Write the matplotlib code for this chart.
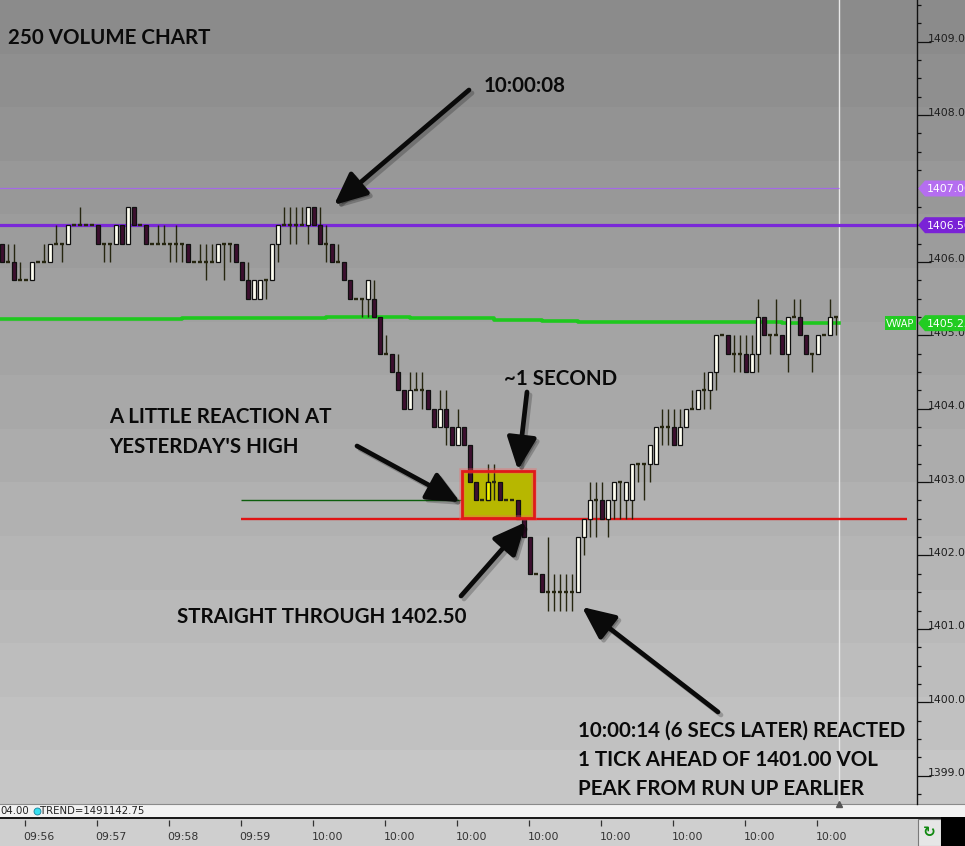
import matplotlib
matplotlib.use('Agg')
import matplotlib.pyplot as plt
import numpy as np
from matplotlib.patches import Polygon, Rectangle

# ---------------- data ----------------
opens = [1406.25, 1406.0, 1406.0, 1405.75, 1405.75, 1405.75, 1406.0, 1406.0, 1406.0, 1406.25,
         1406.25, 1406.25, 1406.5, 1406.5, 1406.5, 1406.5, 1406.5, 1406.25, 1406.25, 1406.25,
         1406.5, 1406.25, 1406.75, 1406.5, 1406.5, 1406.25, 1406.25, 1406.25, 1406.25, 1406.25,
         1406.25, 1406.25, 1406.0, 1406.0, 1406.0, 1406.0, 1406.0, 1406.25, 1406.25, 1406.25,
         1406.0, 1405.75, 1405.5, 1405.5, 1405.75, 1405.75, 1406.25, 1406.5, 1406.5, 1406.5,
         1406.5, 1406.5, 1406.75, 1406.5, 1406.25, 1406.25, 1406.0, 1406.0, 1405.75, 1405.5,
         1405.5, 1405.5, 1405.5, 1405.25, 1404.75, 1404.75, 1404.5, 1404.25, 1404.0, 1404.25,
         1404.25, 1404.25, 1404.0, 1403.75, 1404.0, 1403.75, 1403.5, 1403.75, 1403.5, 1403.0,
         1402.75, 1402.75, 1403.0, 1403.0, 1402.75, 1402.75, 1402.75, 1402.5, 1402.25, 1401.75,
         1401.75, 1401.5, 1401.5, 1401.5, 1401.5, 1401.5, 1401.5, 1402.25, 1402.5, 1402.75,
         1402.75, 1402.5, 1402.75, 1403.0, 1402.75, 1402.75, 1403.25, 1403.25, 1403.25, 1403.25,
         1403.75, 1403.75, 1403.75, 1403.5, 1403.75, 1404.0, 1404.0, 1404.25, 1404.25, 1404.5,
         1405.0, 1405.0, 1404.75, 1404.75, 1404.75, 1404.5, 1404.75, 1405.25, 1405.0, 1405.0,
         1405.0, 1404.75, 1405.25, 1405.25, 1405.0, 1404.75, 1404.75, 1405.0, 1405.0, 1405.25]
highs = [1406.25, 1406.25, 1406.25, 1406.0, 1405.75, 1406.0, 1406.0, 1406.25, 1406.25, 1406.5,
         1406.25, 1406.5, 1406.5, 1406.75, 1406.5, 1406.5, 1406.5, 1406.25, 1406.25, 1406.5,
         1406.5, 1406.75, 1406.75, 1406.5, 1406.5, 1406.25, 1406.5, 1406.5, 1406.25, 1406.5,
         1406.25, 1406.25, 1406.0, 1406.25, 1406.25, 1406.25, 1406.25, 1406.25, 1406.25, 1406.25,
         1406.0, 1406.0, 1405.75, 1405.75, 1405.75, 1406.25, 1406.5, 1406.75, 1406.75, 1406.75,
         1406.75, 1406.75, 1406.75, 1406.75, 1406.5, 1406.25, 1406.25, 1406.0, 1405.75, 1405.5,
         1405.5, 1405.75, 1405.75, 1405.25, 1405.0, 1404.75, 1404.75, 1404.25, 1404.5, 1404.5,
         1404.5, 1404.25, 1404.0, 1404.25, 1404.25, 1403.75, 1404.0, 1403.75, 1403.5, 1403.0,
         1402.75, 1403.25, 1403.25, 1403.0, 1402.75, 1402.75, 1402.75, 1402.5, 1402.25, 1401.75,
         1401.75, 1402.25, 1401.75, 1401.75, 1401.75, 1401.75, 1402.25, 1402.5, 1403.0, 1403.0,
         1403.0, 1402.75, 1403.0, 1403.0, 1403.0, 1403.25, 1403.25, 1403.25, 1403.5, 1403.75,
         1404.0, 1404.0, 1404.0, 1404.0, 1404.0, 1404.25, 1404.25, 1404.5, 1404.5, 1405.0,
         1405.0, 1405.0, 1405.0, 1405.0, 1405.0, 1405.0, 1405.5, 1405.25, 1405.0, 1405.5,
         1405.0, 1405.25, 1405.5, 1405.5, 1405.0, 1404.75, 1405.0, 1405.0, 1405.5, 1405.25]
lows = [1406.0, 1406.0, 1405.75, 1405.75, 1405.75, 1405.75, 1406.0, 1406.0, 1406.0, 1406.25,
        1406.0, 1406.25, 1406.5, 1406.5, 1406.5, 1406.5, 1406.25, 1406.0, 1406.0, 1406.25,
        1406.25, 1406.25, 1406.5, 1406.5, 1406.25, 1406.25, 1406.25, 1406.25, 1406.0, 1406.0,
        1406.0, 1406.0, 1406.0, 1406.0, 1405.75, 1406.0, 1406.0, 1405.75, 1406.0, 1406.0,
        1405.75, 1405.5, 1405.5, 1405.5, 1405.5, 1405.75, 1406.0, 1406.5, 1406.25, 1406.25,
        1406.5, 1406.25, 1406.5, 1406.25, 1406.0, 1406.0, 1406.0, 1405.75, 1405.5, 1405.5,
        1405.25, 1405.25, 1405.25, 1404.75, 1404.75, 1404.5, 1404.25, 1404.0, 1404.0, 1404.25,
        1404.0, 1404.0, 1403.75, 1403.75, 1403.5, 1403.5, 1403.5, 1403.5, 1403.0, 1402.75,
        1402.75, 1402.75, 1402.75, 1402.75, 1402.75, 1402.75, 1402.5, 1402.25, 1401.75, 1401.75,
        1401.5, 1401.25, 1401.25, 1401.25, 1401.25, 1401.25, 1401.5, 1402.0, 1402.25, 1402.25,
        1402.5, 1402.25, 1402.5, 1402.5, 1402.5, 1402.5, 1403.0, 1402.75, 1403.0, 1403.25,
        1403.5, 1403.5, 1403.5, 1403.5, 1403.75, 1404.0, 1404.0, 1404.0, 1404.0, 1404.25,
        1405.0, 1404.75, 1404.5, 1404.5, 1404.5, 1404.5, 1404.5, 1405.0, 1404.75, 1405.0,
        1404.75, 1404.5, 1405.25, 1405.0, 1404.75, 1404.5, 1404.75, 1405.0, 1405.0, 1405.0]
closes = [1406.0, 1406.0, 1405.75, 1405.75, 1405.75, 1406.0, 1406.0, 1406.0, 1406.25, 1406.25,
          1406.25, 1406.5, 1406.5, 1406.5, 1406.5, 1406.5, 1406.25, 1406.25, 1406.25, 1406.5,
          1406.25, 1406.75, 1406.5, 1406.5, 1406.25, 1406.25, 1406.25, 1406.25, 1406.25, 1406.25,
          1406.25, 1406.0, 1406.0, 1406.0, 1406.0, 1406.0, 1406.25, 1406.25, 1406.25, 1406.0,
          1405.75, 1405.5, 1405.75, 1405.75, 1405.75, 1406.25, 1406.5, 1406.5, 1406.5, 1406.5,
          1406.5, 1406.75, 1406.5, 1406.25, 1406.25, 1406.0, 1406.0, 1405.75, 1405.5, 1405.5,
          1405.5, 1405.75, 1405.25, 1404.75, 1404.75, 1404.5, 1404.25, 1404.0, 1404.25, 1404.25,
          1404.25, 1404.0, 1403.75, 1404.0, 1403.75, 1403.5, 1403.75, 1403.5, 1403.0, 1402.75,
          1402.75, 1403.0, 1403.0, 1402.75, 1402.75, 1402.75, 1402.5, 1402.25, 1401.75, 1401.75,
          1401.5, 1401.5, 1401.5, 1401.5, 1401.5, 1401.5, 1402.25, 1402.5, 1402.75, 1402.75,
          1402.5, 1402.75, 1403.0, 1403.0, 1403.0, 1403.25, 1403.25, 1403.25, 1403.5, 1403.75,
          1403.75, 1403.75, 1403.5, 1403.75, 1404.0, 1404.0, 1404.25, 1404.25, 1404.5, 1405.0,
          1405.0, 1404.75, 1404.75, 1404.75, 1404.5, 1404.75, 1405.25, 1405.0, 1405.0, 1405.0,
          1404.75, 1405.25, 1405.25, 1405.0, 1404.75, 1404.75, 1405.0, 1405.0, 1405.25, 1405.25]

vwap_idx = [-1, 30, 54, 68, 82, 90, 96, 105, 130, 139.5]
vwap_val = [1405.228, 1405.232, 1405.245, 1405.232, 1405.21, 1405.195, 1405.185, 1405.177, 1405.165, 1405.165]

level_upper_thin = 1407.00
level_upper = 1406.50
level_yh_green = 1402.75
level_red = 1402.50

price_ticks = [1399, 1400, 1401, 1402, 1403, 1404, 1405, 1406, 1407, 1408, 1409]
time_labels = ["09:56", "09:57", "09:58", "09:59", "10:00", "10:00", "10:00", "10:00",
               "10:00", "10:00", "10:00", "10:00"]

# ---------------- figure / layout ----------------
W, H = 965, 846
fig = plt.figure(figsize=(W / 100, H / 100), dpi=100)
PLOT_BOTTOM = 804
AXIS_X = 917

# background layer (pixel coordinates)
bg = fig.add_axes([0, 0, 1, 1])
bg.set_xlim(0, W)
bg.set_ylim(H, 0)
bg.axis('off')
nb = 15
edges = np.linspace(0, PLOT_BOTTOM, nb + 1)
shades = np.linspace(0.545, 0.775, nb)
for i in range(nb):
    bg.add_patch(Rectangle((0, edges[i]), W, edges[i + 1] - edges[i] + 0.5,
                           fc=(shades[i],) * 3, ec='none', lw=0))
bg.add_patch(Rectangle((0, PLOT_BOTTOM), W, 13, fc='#f2f2f2', ec='none'))
bg.plot([0, W], [PLOT_BOTTOM + 0.5, PLOT_BOTTOM + 0.5], color='#8a8a8a', lw=0.8)
bg.add_patch(Rectangle((0, 817), W, 2, fc='#1a1a1a', ec='none'))
bg.add_patch(Rectangle((0, 819), W, 27, fc='#cfcfcf', ec='none'))
bg.add_patch(Rectangle((918, 819), 23, 27, fc='#e6e6e6', ec='#7a7a7a', lw=0.8))
bg.add_patch(Rectangle((941, 817), 24, 29, fc='#000000', ec='none'))
bg.text(929.5, 832, '\u21bb', color='#128a12', fontsize=11, fontweight='bold',
        ha='center', va='center', family='DejaVu Sans')
bg.text(0, 811, '04.00', fontsize=7.3, color='#222222', va='center', ha='left', family='DejaVu Sans')
bg.plot(36.5, 811, 'o', ms=5, mfc='#35e0f0', mec='#1a7f9a', mew=0.6)
bg.text(39.5, 811, 'TREND=1491142.75', fontsize=7.3, color='#222222', va='center', ha='left',
        family='DejaVu Sans')

# main price axes
ax = fig.add_axes([0, 1 - PLOT_BOTTOM / H, AXIS_X / W, PLOT_BOTTOM / H])
ax.patch.set_alpha(0)
ytop = 1409 + 41.7 / 73.4
ax.set_ylim(ytop - PLOT_BOTTOM / 73.4, ytop)
ax.set_xlim(-1 / 3, (AXIS_X - 2) / 6)
for s in ['left', 'top', 'bottom']:
    ax.spines[s].set_visible(False)
ax.spines['right'].set_color('#111111')
ax.spines['right'].set_linewidth(1.0)
ax.yaxis.tick_right()
ax.set_yticks(price_ticks)
ax.set_yticks(np.arange(1398.75, 1409.6, 0.25), minor=True)
ax.tick_params(axis='y', which='major', length=10, width=0.9, color='#111111', labelright=False)
ax.tick_params(axis='y', which='minor', length=3, width=0.9, color='#111111')
ax.set_xticks([])

o = np.array(opens); h = np.array(highs); l = np.array(lows); c = np.array(closes)
x = np.arange(len(o))

# level lines
ax.hlines(level_upper_thin, -1, 139.5, color='#a36ae6', lw=0.9, zorder=2)
ax.axhline(level_upper, color='#7a28d8', lw=2.3, zorder=2)
ax.plot(vwap_idx, vwap_val, drawstyle='steps-post', color='#1ec81e', lw=2.6, zorder=2)
ax.hlines(level_yh_green, 39.8, 77, color='#0d5e0d', lw=1.0, zorder=2)
ax.hlines(level_red, 39.8, 150.8, color='#e01414', lw=1.7, zorder=2)
ax.axvline(139.5, color='#e8e8e8', lw=1.0, zorder=1)

# yellow highlight box (behind candles)
inv = ax.transData.inverted()
def px2data(px, py):
    return inv.transform((px, H - py))
bx0, by0 = px2data(462, 518)
bx1, by1 = px2data(534, 471)
box = Rectangle((bx0, by0), bx1 - bx0, by1 - by0, fc='#b7b700', ec='none', zorder=2.5)
ax.add_patch(box)

# candles
up = c > o
dn = c < o
dj = c == o
ax.vlines(x, l, h, color='#262610', lw=1.0, zorder=3)
ax.bar(x[up], (c - o)[up], bottom=o[up], width=0.74, color='#fffff2', edgecolor='#101010',
       lw=0.9, zorder=4)
ax.bar(x[dn], (o - c)[dn], bottom=c[dn], width=0.74, color='#3d0f2f', edgecolor='#101010',
       lw=0.9, zorder=4)
ax.hlines(o[dj], x[dj] - 0.38, x[dj] + 0.38, color='#262610', lw=1.7, zorder=4)
# white candles inside the highlight box look yellow
ybars = ax.bar(x[up], (c - o)[up], bottom=o[up], width=0.74, color='#f2f200',
               edgecolor='#101010', lw=0.9, zorder=4.5)
for r in ybars:
    r.set_clip_path(box)

# red border of box
ax.add_patch(Rectangle((bx0, by0), bx1 - bx0, by1 - by0, fill=False, ec='#ff6060', lw=4,
                       alpha=0.35, zorder=5))
ax.add_patch(Rectangle((bx0, by0), bx1 - bx0, by1 - by0, fill=False, ec='#e01a1a', lw=2,
                       zorder=5.1))

# bottom marker of current bar line
ax.plot([139.5], [ax.get_ylim()[0]], marker='^', ms=4.5, color='#555555', clip_on=False, zorder=6)

# time axis
axt = fig.add_axes([0, 0, AXIS_X / W, 27 / H])
axt.set_xlim(ax.get_xlim())
axt.set_ylim(0, 1)
axt.axis('off')
tpos = [3.77 + 12 * i for i in range(len(time_labels))]
axt.vlines(tpos, 1 - 7 / 27, 1 - 1 / 27, color='#333333', lw=0.9)
for tp, lab in zip(tpos, time_labels):
    axt.text(tp - 0.2, 0.33, lab, fontsize=7.8, color='#333333', ha='left', va='center',
             family='DejaVu Sans')

# overlay (pixel coordinates)
ov = fig.add_axes([0, 0, 1, 1])
ov.set_xlim(0, W)
ov.set_ylim(H, 0)
ov.axis('off')
ov.patch.set_alpha(0)

def ypx(price):
    return H - ax.transData.transform((0, price))[1]

for p in price_ticks:
    ov.text(928, ypx(p) + 0.5, f"{p:.2f}", fontsize=7.8, color='#1e1e1e', ha='left',
            va='baseline', family='DejaVu Sans')

def tag(price, color, text):
    yp = ypx(price)
    poly = [(918, yp), (925, yp - 8), (W + 2, yp - 8), (W + 2, yp + 8), (925, yp + 8)]
    ov.add_patch(Polygon(poly, closed=True, fc=color, ec='none', zorder=5))
    ov.text(927, yp + 0.5, text, color='white', fontsize=7.8, va='center', ha='left',
            family='DejaVu Sans', zorder=6)

tag(level_upper_thin, '#b56ef0', f"{level_upper_thin:.2f}")
tag(level_upper, '#7a22d6', f"{level_upper:.2f}")
vy = ypx(vwap_val[-1])
tag(vwap_val[-1], '#22cc22', "1405.25")
ov.add_patch(Rectangle((885, vy - 7), 31, 14, fc='#22cc22', ec='none', zorder=5))
ov.text(900.5, vy + 0.5, 'VWAP', color='white', fontsize=7, ha='center', va='center',
        family='DejaVu Sans', zorder=6)

# annotations text
renderer = fig.canvas.get_renderer()
notes = [
    ("250 VOLUME CHART", 8, 37, 203),
    ("10:00:08", 484, 85, 85),
    ("~1 SECOND", 504, 378, 112),
    ("A LITTLE REACTION AT", 109, 416, 221),
    ("YESTERDAY'S HIGH", 109, 446, 188),
    ("STRAIGHT THROUGH 1402.50", 177, 616, 291),
    ("10:00:14 (6 SECS LATER) REACTED", 578, 729, 335),
    ("1 TICK AHEAD OF 1401.00 VOL", 578, 759, 298),
    ("PEAK FROM RUN UP EARLIER", 578, 788, 292),
]
sizes = []
for s, xx, yy, wd in notes:
    t = ov.text(0, 0, s, fontsize=14, fontweight='bold', family='Lato')
    sizes.append(14 * wd / t.get_window_extent(renderer).width)
    t.remove()
fs = float(np.median(sizes))
cap = 0.7165 * fs * 100 / 72
for s, xx, yy, wd in notes:
    ov.text(xx, yy + cap / 2, s, fontsize=fs, fontweight='bold', family='Lato', color='#0a0a0a',
            ha='left', va='baseline', zorder=7)

def arrow(x0, y0, x1, y1):
    for dx, col in ((3, (0, 0, 0, 0.22)), (0, '#0a0a0a')):
        ov.annotate('', xy=(x1 + dx, y1 + dx), xytext=(x0 + dx, y0 + dx),
                    arrowprops=dict(arrowstyle='-|>,head_length=1.1,head_width=0.5',
                                    lw=3.4, color=col, mutation_scale=18,
                                    shrinkA=0, shrinkB=0), zorder=7)

arrow(469, 90, 334, 205)
arrow(527, 392, 518, 470)
arrow(357, 446, 460, 502)
arrow(461, 596, 526, 522)
arrow(718, 712, 582, 607)

fig.savefig('out.png', dpi=100)
